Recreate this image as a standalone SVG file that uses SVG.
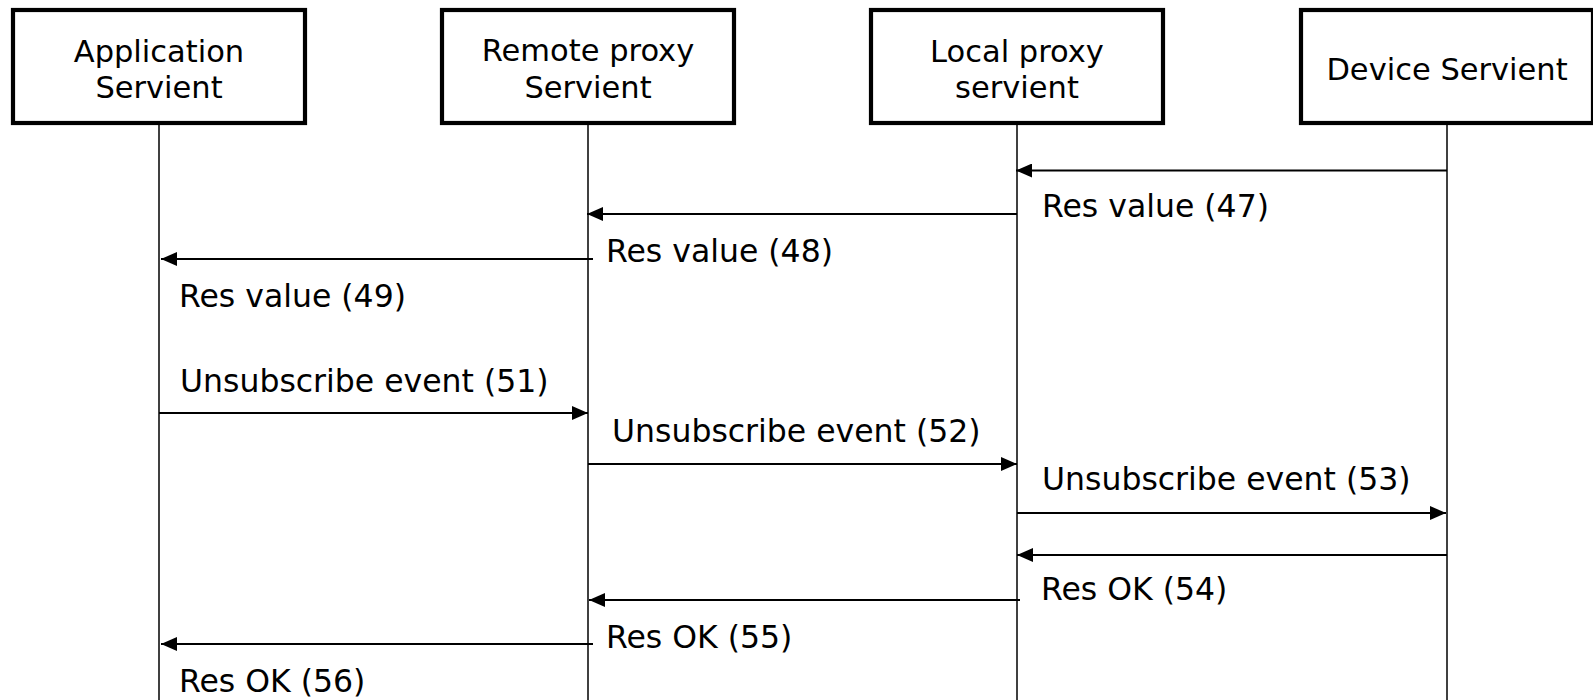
<svg xmlns="http://www.w3.org/2000/svg" width="1593" height="700" viewBox="0 0 1593 700">
<style>
.box{fill:#fff;stroke:#000;stroke-width:4.2}
.bt{font-family:"DejaVu Sans",Verdana,sans-serif;font-size:30.5px;fill:#000;text-anchor:middle}
.life{stroke:#000;stroke-width:1.5;fill:none}
.msg{stroke:#000;stroke-width:2.2;fill:none;marker-end:url(#ah)}
.lbl{font-family:"DejaVu Sans",Verdana,sans-serif;font-size:31.5px;fill:#000}
</style>
<defs>
<marker id="ah" markerUnits="userSpaceOnUse" markerWidth="16" markerHeight="14" refX="16" refY="7" orient="auto">
<path d="M0,0 L16,7 L0,14 z" fill="#000"/>
</marker>
</defs>
<rect width="1593" height="700" fill="#fff"/>
<g id="lifelines">
<line class="life" x1="159" y1="125" x2="159" y2="700"/>
<line class="life" x1="588" y1="125" x2="588" y2="700"/>
<line class="life" x1="1017" y1="125" x2="1017" y2="700"/>
<line class="life" x1="1447" y1="125" x2="1447" y2="700"/>
</g>
<g id="app">
<rect class="box" x="13" y="10" width="292" height="113"/>
<text class="bt" x="159" y="62">Application</text>
<text class="bt" x="159" y="98">Servient</text>
</g>
<g id="remote">
<rect class="box" x="442" y="10" width="292" height="113"/>
<text class="bt" x="588" y="61">Remote proxy</text>
<text class="bt" x="588" y="98">Servient</text>
</g>
<g id="local">
<rect class="box" x="871" y="10" width="292" height="113"/>
<text class="bt" x="1017" y="62">Local proxy</text>
<text class="bt" x="1017" y="98">servient</text>
</g>
<g id="device">
<rect class="box" x="1301" y="10" width="292" height="113"/>
<text class="bt" x="1447" y="80">Device Servient</text>
</g>
<g id="connectors">
<line class="msg" x1="1447" y1="170.5" x2="1016" y2="170.5"/>
<line class="msg" x1="1017" y1="214" x2="587" y2="214"/>
<line class="msg" x1="593" y1="259" x2="161" y2="259"/>
<line class="msg" x1="159" y1="413" x2="588" y2="413"/>
<line class="msg" x1="588" y1="464" x2="1017" y2="464"/>
<line class="msg" x1="1017" y1="513" x2="1446" y2="513"/>
<line class="msg" x1="1447" y1="555" x2="1017" y2="555"/>
<line class="msg" x1="1020" y1="600" x2="589" y2="600"/>
<line class="msg" x1="593" y1="644" x2="161" y2="644"/>
</g>
<g id="labels">
<text class="lbl" x="1042" y="217">Res value (47)</text>
<text class="lbl" x="606" y="262">Res value (48)</text>
<text class="lbl" x="179" y="307">Res value (49)</text>
<text class="lbl" x="180" y="392">Unsubscribe event (51)</text>
<text class="lbl" x="612" y="442">Unsubscribe event (52)</text>
<text class="lbl" x="1042" y="490">Unsubscribe event (53)</text>
<text class="lbl" x="1041" y="600">Res OK (54)</text>
<text class="lbl" x="606" y="648">Res OK (55)</text>
<text class="lbl" x="179" y="692">Res OK (56)</text>
</g>
</svg>
